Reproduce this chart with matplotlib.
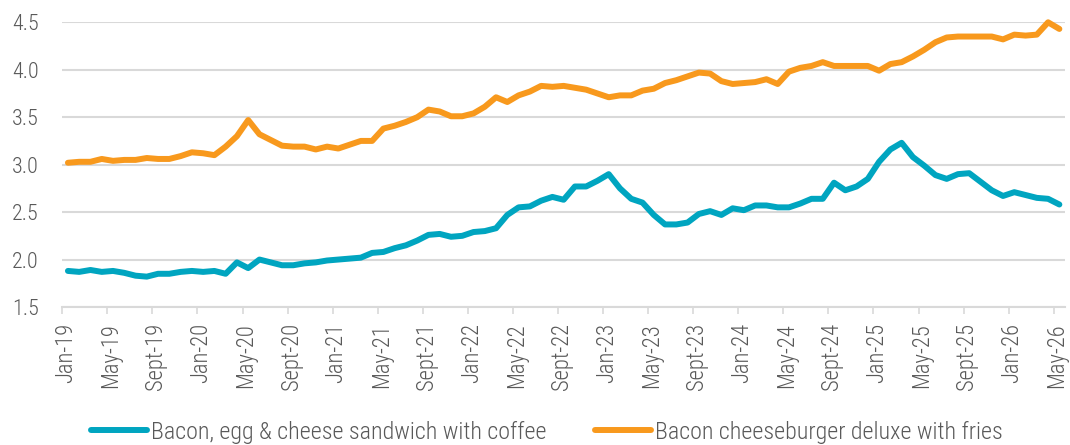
import matplotlib
matplotlib.use("Agg")
import matplotlib.pyplot as plt
from matplotlib import font_manager as fm
import numpy as np

# ---- data ----
months = ["Jan", "Feb", "Mar", "Apr", "May", "Jun", "Jul", "Aug", "Sept", "Oct", "Nov", "Dec"]
years = list(range(19, 27))
labels = [f"{m}-{y}" for y in years for m in months][:89]

breakfast = [1.88, 1.87, 1.89, 1.87, 1.88, 1.86, 1.83, 1.82, 1.85, 1.85, 1.87, 1.88,
             1.87, 1.88, 1.85, 1.97, 1.91, 2.00, 1.97, 1.94, 1.94, 1.96, 1.97, 1.99,
             2.00, 2.01, 2.02, 2.07, 2.08, 2.12, 2.15, 2.20, 2.26, 2.27, 2.24, 2.25,
             2.29, 2.30, 2.33, 2.47, 2.55, 2.56, 2.62, 2.66, 2.63, 2.77, 2.77, 2.83,
             2.90, 2.75, 2.64, 2.60, 2.47, 2.37, 2.37, 2.39, 2.48, 2.51, 2.47, 2.54,
             2.52, 2.57, 2.57, 2.55, 2.55, 2.59, 2.64, 2.64, 2.81, 2.73, 2.77, 2.85,
             3.03, 3.16, 3.23, 3.08, 2.99, 2.89, 2.85, 2.90, 2.91, 2.82, 2.73, 2.67,
             2.71, 2.68, 2.65, 2.64, 2.58]

burger = [3.02, 3.03, 3.03, 3.06, 3.04, 3.05, 3.05, 3.07, 3.06, 3.06, 3.09, 3.13,
          3.12, 3.10, 3.19, 3.30, 3.47, 3.32, 3.26, 3.20, 3.19, 3.19, 3.16, 3.19,
          3.17, 3.21, 3.25, 3.25, 3.38, 3.41, 3.45, 3.50, 3.58, 3.56, 3.51, 3.51,
          3.54, 3.61, 3.71, 3.66, 3.73, 3.77, 3.83, 3.82, 3.83, 3.81, 3.79, 3.75,
          3.71, 3.73, 3.73, 3.78, 3.80, 3.86, 3.89, 3.93, 3.97, 3.96, 3.88, 3.85,
          3.86, 3.87, 3.90, 3.85, 3.98, 4.02, 4.04, 4.08, 4.04, 4.04, 4.04, 4.04,
          3.99, 4.06, 4.08, 4.14, 4.21, 4.29, 4.34, 4.35, 4.35, 4.35, 4.35, 4.32,
          4.37, 4.36, 4.37, 4.50, 4.43]

series_names = ["Bacon, egg & cheese sandwich with coffee",
                "Bacon cheeseburger deluxe with fries"]
yticks = [1.5, 2.0, 2.5, 3.0, 3.5, 4.0, 4.5]

# ---- font ----
avail = {f.name for f in fm.fontManager.ttflist}
family = "Roboto"
for cand in ["Roboto Condensed", "Liberation Sans Narrow", "Roboto"]:
    if cand in avail:
        family = cand
        break
plt.rcParams["font.family"] = [family, "DejaVu Sans"]
weight = "light" if family.startswith("Roboto") else "normal"

text_color = "#595959"
grid_color = "#D9D9D9"
blue = "#00A5C0"
orange = "#F8991D"

fig = plt.figure(figsize=(10.7, 4.45), dpi=100)
ax = fig.add_axes([62.3 / 1070, 1 - 307 / 445, (1065 - 62.3) / 1070, (307 - 22.3) / 445])

x = np.arange(len(labels))
ax.plot(x, breakfast, color=blue, lw=4.3, solid_capstyle="round", clip_on=False,
        label=series_names[0], zorder=3)
ax.plot(x, burger, color=orange, lw=4.3, solid_capstyle="round", clip_on=False,
        label=series_names[1], zorder=3)

ax.set_xlim(-0.5, len(labels) - 0.5)
ax.set_ylim(1.5, 4.5)

ax.set_yticks(yticks)
ax.set_yticklabels([f"{v:.1f}" for v in yticks])
ax.yaxis.grid(True, color=grid_color, lw=1.5)
ax.set_axisbelow(True)

ax.set_xticks(x[::4] - 0.2)
ax.set_xticklabels(labels[::4], rotation=90, va="top", ha="center")
ax.set_xticks(np.arange(-0.5, len(labels) - 0.5, 4), minor=True)
ax.tick_params(axis="x", which="major", length=0, pad=11.5, labelsize=16.3,
               labelcolor=text_color)
ax.tick_params(axis="x", which="minor", length=5, width=1.2, color=grid_color)
ax.tick_params(axis="y", length=0, pad=17, labelsize=15.8, labelcolor=text_color)
for lab in ax.get_xticklabels() + ax.get_yticklabels():
    lab.set_fontweight(weight)

for s in ["left", "right", "top"]:
    ax.spines[s].set_visible(False)
ax.spines["bottom"].set_color(grid_color)
ax.spines["bottom"].set_linewidth(1.5)

leg = fig.legend(loc="center", bbox_to_anchor=(547 / 1070, 1 - 432 / 445), ncol=2,
                 frameon=False, handlelength=2.35, handletextpad=0.17,
                 columnspacing=2.0, borderaxespad=0, borderpad=0,
                 prop={"size": 17.3, "weight": weight})
for t in leg.get_texts():
    t.set_color(text_color)
for h in leg.get_lines():
    h.set_solid_capstyle("round")

fig.savefig("out.png", dpi=100)
